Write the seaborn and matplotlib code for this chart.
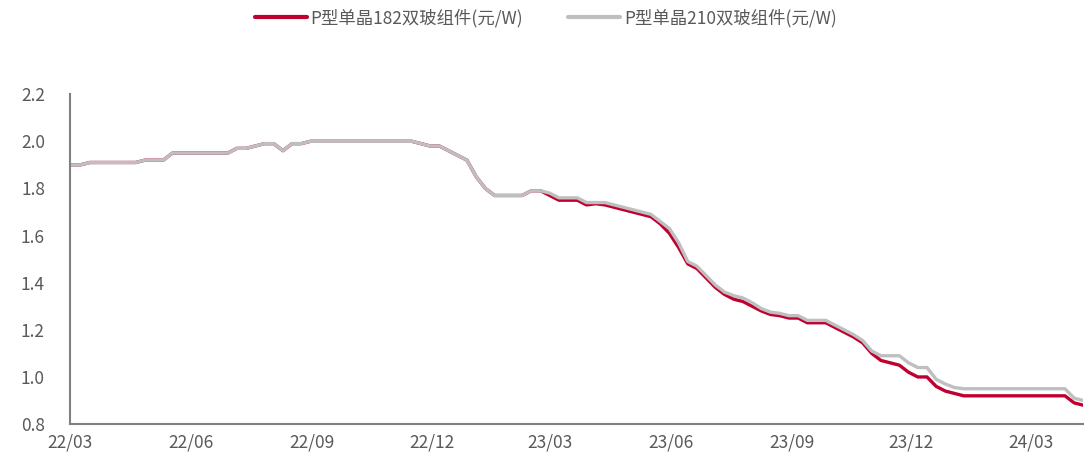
import numpy as np
import pandas as pd
import matplotlib
matplotlib.use("Agg")
import matplotlib.pyplot as plt
import matplotlib.dates as mdates
import seaborn as sns

# Weekly module prices, yuan per watt
start_date = "2022-03-02"
series_names = ["P型单晶182双玻组件(元/W)", "P型单晶210双玻组件(元/W)"]

price_182 = [
    1.90, 1.90, 1.91, 1.91, 1.91, 1.91, 1.91, 1.91, 1.92, 1.92,
    1.92, 1.95, 1.95, 1.95, 1.95, 1.95, 1.95, 1.95, 1.97, 1.97,
    1.98, 1.99, 1.99, 1.96, 1.99, 1.99, 2.00, 2.00, 2.00, 2.00,
    2.00, 2.00, 2.00, 2.00, 2.00, 2.00, 2.00, 2.00, 1.99, 1.98,
    1.98, 1.96, 1.94, 1.92, 1.85, 1.80, 1.77, 1.77, 1.77, 1.77,
    1.79, 1.79, 1.77, 1.75, 1.75, 1.75, 1.73, 1.735, 1.73, 1.72,
    1.71, 1.70, 1.69, 1.68, 1.65, 1.61, 1.55, 1.48, 1.46, 1.42,
    1.38, 1.35, 1.33, 1.32, 1.30, 1.28, 1.265, 1.26, 1.25, 1.25,
    1.23, 1.23, 1.23, 1.21, 1.19, 1.17, 1.145, 1.10, 1.07, 1.06,
    1.05, 1.02, 1.00, 1.00, 0.96, 0.94, 0.93, 0.92, 0.92, 0.92,
    0.92, 0.92, 0.92, 0.92, 0.92, 0.92, 0.92, 0.92, 0.92, 0.89,
    0.88,
]

price_210 = [
    1.90, 1.90, 1.91, 1.91, 1.91, 1.91, 1.91, 1.91, 1.92, 1.92,
    1.92, 1.95, 1.95, 1.95, 1.95, 1.95, 1.95, 1.95, 1.97, 1.97,
    1.98, 1.99, 1.99, 1.96, 1.99, 1.99, 2.00, 2.00, 2.00, 2.00,
    2.00, 2.00, 2.00, 2.00, 2.00, 2.00, 2.00, 2.00, 1.99, 1.98,
    1.98, 1.96, 1.94, 1.92, 1.85, 1.80, 1.77, 1.77, 1.77, 1.77,
    1.79, 1.79, 1.78, 1.76, 1.76, 1.76, 1.74, 1.74, 1.74, 1.73,
    1.72, 1.71, 1.70, 1.69, 1.66, 1.63, 1.57, 1.49, 1.47, 1.43,
    1.39, 1.36, 1.345, 1.335, 1.315, 1.29, 1.275, 1.27, 1.26, 1.26,
    1.24, 1.24, 1.24, 1.22, 1.20, 1.18, 1.155, 1.11, 1.09, 1.09,
    1.09, 1.06, 1.04, 1.04, 0.99, 0.97, 0.955, 0.95, 0.95, 0.95,
    0.95, 0.95, 0.95, 0.95, 0.95, 0.95, 0.95, 0.95, 0.95, 0.91,
    0.90,
]

dates = pd.date_range(start_date, periods=len(price_182), freq="7D")
df = pd.concat([
    pd.DataFrame({"date": dates, "price": price_182, "series": series_names[0]}),
    pd.DataFrame({"date": dates, "price": price_210, "series": series_names[1]}),
])

sns.set_theme(style="white")
plt.rcParams["font.family"] = ["Noto Sans CJK SC", "DejaVu Sans"]

text_color = "#595959"
spine_color = "#808080"
palette = {series_names[0]: "#C0002F", series_names[1]: "#BFBFBF"}

fig = plt.figure(figsize=(10.85, 4.57), dpi=100)
ax = fig.add_axes([0.0645, 0.072, 0.934, 0.722])

sns.lineplot(data=df, x="date", y="price", hue="series", palette=palette,
             hue_order=series_names, linewidth=2.4, ax=ax, legend=True)

ax.set_ylim(0.8, 2.2)
ax.set_yticks(np.arange(0.8, 2.21, 0.2))
ax.yaxis.set_major_formatter(matplotlib.ticker.FormatStrFormatter("%.1f"))
ax.set_xlim(pd.Timestamp("2022-03-01"), dates[-1])
ax.xaxis.set_major_locator(mdates.MonthLocator(bymonth=[3, 6, 9, 12]))
ax.xaxis.set_major_formatter(mdates.DateFormatter("%y/%m"))

ax.set_xlabel("")
ax.set_ylabel("")
for side in ["top", "right"]:
    ax.spines[side].set_visible(False)
for side in ["left", "bottom"]:
    ax.spines[side].set_color(spine_color)
    ax.spines[side].set_linewidth(1.5)
ax.tick_params(axis="both", colors=spine_color, labelcolor=text_color,
               labelsize=12.5, direction="out", length=4, width=1.5)
ax.tick_params(axis="y", pad=14)
ax.tick_params(axis="x", pad=3)
ax.grid(False)

handles, labels = ax.get_legend_handles_labels()
leg = ax.legend(handles, labels, loc="upper center", bbox_to_anchor=(0.503, 1.0),
                bbox_transform=fig.transFigure, ncol=2, frameon=False,
                fontsize=12.5, handlelength=3.0, columnspacing=2.6,
                handletextpad=0.2, borderaxespad=0.1)
for t in leg.get_texts():
    t.set_color(text_color)
for h in leg.get_lines():
    h.set_linewidth(3)

fig.savefig("out.png", dpi=100)
